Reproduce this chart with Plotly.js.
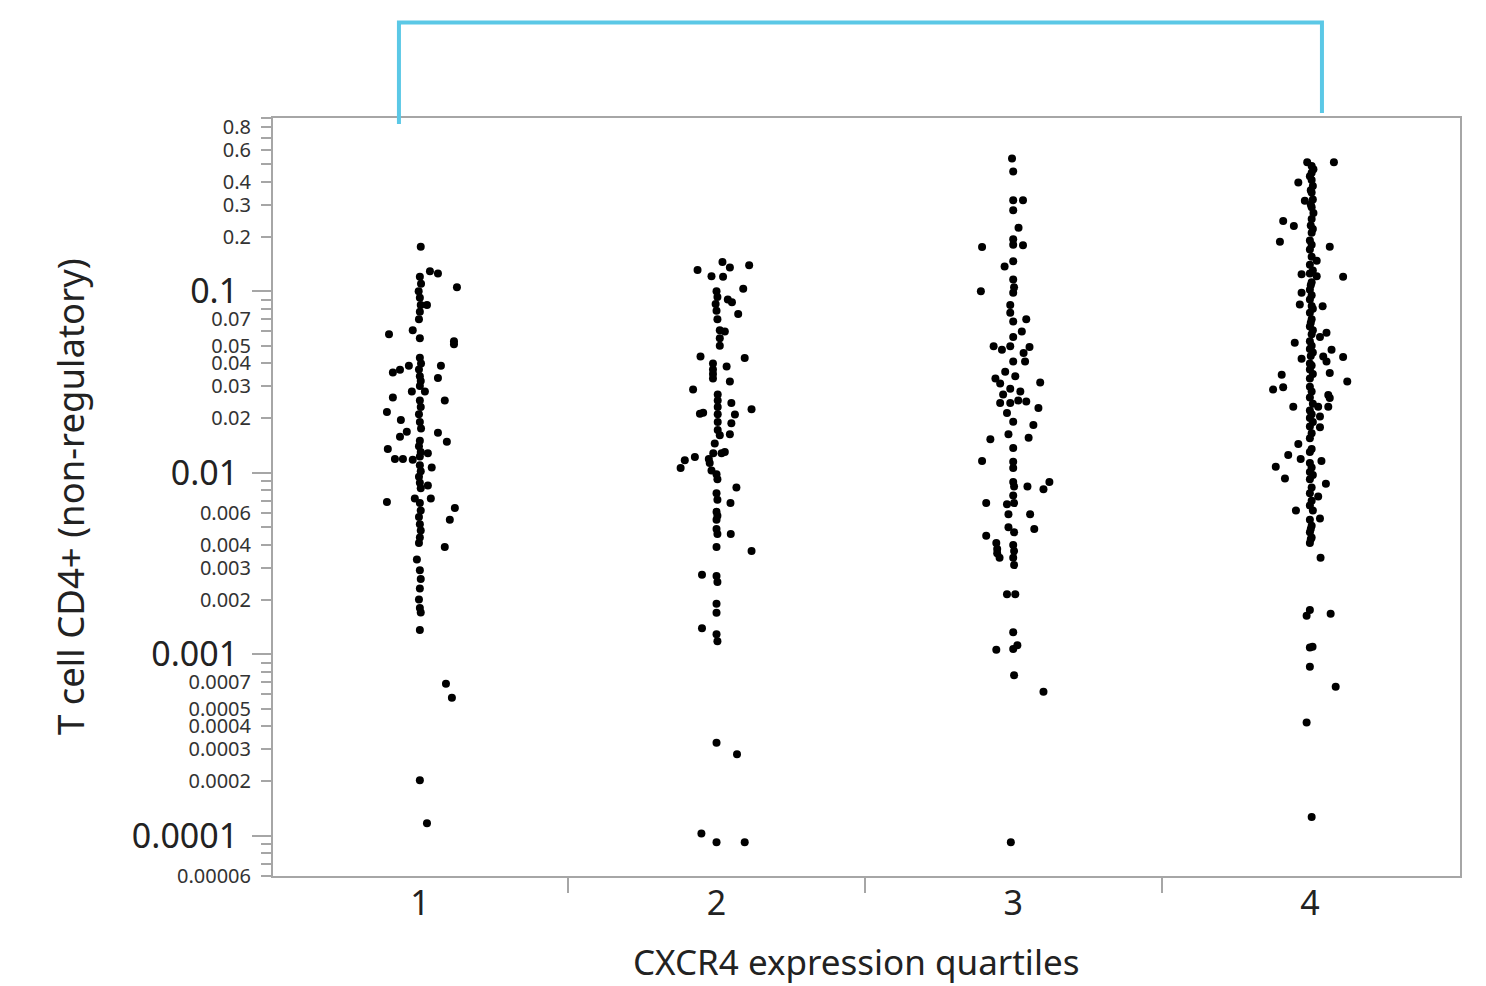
<!DOCTYPE html>
<html>
<head>
<meta charset="utf-8">
<script src="https://cdn.plot.ly/plotly-3.0.1.min.js"></script>
<style>html,body{margin:0;padding:0;background:#fff;}#chart{width:1486px;height:986px;}</style>
</head>
<body>
<div id="chart"></div>
<script>
// ---- data ----
const categories = [1, 2, 3, 4];
const categoryLabels = ['1', '2', '3', '4'];

const q1Values = [0.176,0.129,0.125,0.105,0.12,0.11,0.10,0.092,0.084,0.077,0.07,0.084,0.058,0.061,0.055,0.053,0.051,
  0.043,0.040,0.037,0.034,0.032,0.030,0.0356,0.0369,0.0388,0.0388,0.0333,0.028,0.028,0.026,0.025,0.0216,0.0195,
  0.025,0.023,0.021,0.019,0.0175,0.0168,0.0158,0.0166,0.0148,0.015,0.014,0.013,0.0123,0.0135,0.0119,0.0119,0.0118,
  0.0128,0.0107,0.011,0.0102,0.0095,0.0088,0.0082,0.0085,0.0069,0.0072,0.0072,0.0064,0.0055,
  0.0068,0.0062,0.0057,0.0052,0.0048,0.0044,0.0041,0.0039,0.00333,0.0029,0.0026,0.0023,0.0020,0.0018,0.0017,
  0.00136,0.000687,0.000575,0.000202,0.000117];
const q1Jitter = [0.003,0.034,0.061,0.125,0,0.004,-0.004,0,0.003,0,-0.003,0.024,-0.104,-0.024,0,0.115,0.115,
  0,0.004,-0.003,0,0.003,0,-0.091,-0.067,-0.037,0.071,0.061,-0.027,0.017,-0.091,0.084,-0.111,-0.064,
  0,0.003,-0.003,0,0.004,-0.044,-0.067,0.061,0.091,0,-0.003,0.003,0,-0.108,-0.084,-0.057,-0.024,
  0.027,0.040,0,0.003,-0.003,0,0.003,0.027,-0.111,-0.017,0.037,0.118,0.101,
  0,0.003,-0.003,0,0.003,0,-0.003,0.084,-0.010,0,0.003,0,-0.003,0,0.003,
  0,0.088,0.108,0,0.024];

const q2Values = [0.145,0.131,0.135,0.139,0.121,0.12,0.103,0.1,0.093,0.085,0.078,0.07,0.09,0.087,0.075,
  0.061,0.055,0.05,0.06,0.0437,0.0429,0.040,0.037,0.035,0.033,0.0385,0.0318,0.0287,
  0.027,0.025,0.023,0.021,0.019,0.0172,0.0242,0.0224,0.0211,0.0214,0.0209,0.0187,0.0163,0.0161,0.0145,
  0.013,0.0128,0.0128,0.0122,0.0117,0.0119,0.0113,0.0106,0.0103,0.0098,0.0092,0.0083,0.0077,0.0071,0.0068,
  0.0061,0.0058,0.0055,0.0049,0.0046,0.0046,0.0039,0.0037,0.00274,0.0027,0.0025,0.0019,0.00169,0.00139,
  0.00129,0.00118,0.000325,0.000281,0.000103,0.000092,0.000092];
const q2Jitter = [0.02,-0.064,0.045,0.11,-0.017,0.022,0.09,0,0.003,-0.003,0,0.003,0.038,0.052,0.073,
  0.011,0.011,0.011,0.028,-0.054,0.095,-0.012,-0.012,-0.012,-0.012,0.034,0.045,-0.079,
  0.004,0.004,0.004,0.004,0.004,0.004,0.05,0.118,-0.056,-0.045,0.062,0.05,0.045,0.011,-0.006,
  0.028,0.017,-0.011,-0.073,-0.107,-0.026,-0.023,-0.121,-0.017,0,0.003,0.067,0,0.003,0.047,
  0,0.003,0,0,0.003,0.048,0,0.118,-0.049,0,0.003,0,0,-0.049,
  0,0.003,0,0.069,-0.051,0,0.095];

const q3Values = [0.539,0.457,0.317,0.317,0.279,0.224,0.193,0.179,0.18,0.175,0.146,0.137,0.116,0.105,0.098,0.1,
  0.084,0.076,0.068,0.07,0.06,0.056,0.0497,0.0476,0.0497,0.0493,0.0457,0.041,0.041,
  0.036,0.034,0.031,0.029,0.027,0.025,0.033,0.028,0.0242,0.0242,0.0314,0.0247,0.0227,0.0213,0.0191,0.0183,
  0.0163,0.0156,0.0153,0.0137,0.0116,0.0115,0.0106,0.0089,0.0084,0.0084,0.0089,0.0081,0.0075,0.0068,0.0068,
  0.0067,0.0059,0.0059,0.005,0.0047,0.0049,0.0045,0.0041,0.0038,0.0036,0.0034,0.0040,0.0037,0.0034,0.0031,
  0.00214,0.00214,0.00132,0.00106,0.00107,0.00112,0.000767,0.000621,0.000092];
const q3Jitter = [-0.004,0,0,0.033,0,0.018,0,0.033,0,-0.105,0,-0.029,0,0.003,0,-0.109,
  -0.01,-0.01,0,0.044,0.029,0,-0.066,-0.038,-0.01,0.055,0.035,0,0.04,
  -0.027,0.007,-0.044,-0.01,-0.034,0.017,-0.06,0.024,-0.044,-0.01,0.091,0.044,0.085,-0.021,0,0.068,
  -0.016,0.052,-0.077,0,-0.105,0,0,0,0.003,0.048,0.122,0.102,0,0.003,-0.091,
  -0.021,-0.016,0.057,-0.016,0.003,0.071,-0.091,-0.057,-0.054,-0.054,-0.046,0,0.003,0,0.003,
  -0.021,0.007,0,-0.057,0,0.014,0.003,0.102,-0.008];

const q4Values = [0.513,0.513,0.49,0.47,0.45,0.43,0.41,0.38,0.36,0.35,0.32,0.30,0.29,0.27,0.25,0.23,0.22,0.21,
  0.397,0.315,0.244,0.229,0.187,0.176,0.19,0.18,0.17,0.155,0.14,0.13,0.125,0.112,0.108,0.102,0.147,0.124,0.121,0.12,
  0.098,0.0845,0.0826,0.095,0.09,0.083,0.08,0.076,0.07,0.067,0.064,0.061,0.058,0.053,0.05,0.048,0.046,0.044,0.04,
  0.039,0.037,0.035,0.033,0.059,0.056,0.052,0.0476,0.0437,0.041,0.0434,0.0424,0.0354,0.0318,0.0347,0.0287,0.0296,
  0.0298,0.0268,0.0258,0.0231,0.028,0.026,0.024,0.022,0.021,0.02,0.019,0.018,0.0165,0.0155,0.0231,0.0231,0.0204,
  0.0178,0.0144,0.0125,0.0119,0.0135,0.013,0.0116,0.0113,0.0108,0.0107,0.0093,0.0101,0.0097,0.0092,0.0087,0.0083,
  0.0077,0.0074,0.007,0.0066,0.0062,0.0062,0.0056,0.0055,0.0051,0.0049,0.0047,0.0044,0.0043,0.0041,0.0034,
  0.00175,0.00163,0.00167,0.0011,0.00109,0.000853,0.000661,0.00042,0.000127];
const q4Jitter = [-0.009,0.081,0.006,0.012,0.006,0,0.006,0.01,0.003,0.006,0.01,0.003,0.006,0.012,0.006,0.003,0.01,0.006,
  -0.039,-0.017,-0.09,-0.054,-0.101,0.067,0,0.006,0,0.006,0,0.01,0,0.006,0.003,0,0.023,-0.028,0.023,0.112,
  -0.028,-0.034,0.043,0.006,0,0.006,0.01,0,0.006,0.003,0,0.01,0.006,0,0.006,0,0.01,0.003,0,
  0.006,0,0.01,0,0.056,0.034,-0.051,0.073,0.045,0.056,0.112,-0.028,0.067,0.126,-0.095,-0.124,-0.09,
  0,0.062,0.067,-0.056,0.006,0,0.01,0,0.006,0,0.01,0,0.006,0,0.028,0.062,0.034,
  0.034,-0.039,-0.073,-0.031,0.006,0,0.039,0,-0.115,0.006,-0.084,0,0.01,0,0.054,0.006,
  0,0.028,0.006,0,0.01,-0.047,0.034,0,0.006,0.003,0,0.006,0.003,0,0.036,
  0,-0.011,0.07,0.009,0,0,0.087,-0.011,0.006];

const refLine = 0.0106;
const yLabeledTicks = [0.8,0.6,0.4,0.3,0.2,0.07,0.05,0.04,0.03,0.02,0.006,0.004,0.003,0.002,0.0007,0.0005,0.0004,0.0003,0.0002,0.00006];
const yLabeledText = ['0.8','0.6','0.4','0.3','0.2','0.07','0.05','0.04','0.03','0.02','0.006','0.004','0.003','0.002','0.0007','0.0005','0.0004','0.0003','0.0002','0.00006'];
const yMinorTicks = [0.9,0.7,0.5,0.09,0.08,0.06,0.009,0.008,0.007,0.005,0.0009,0.0008,0.0006,0.00009,0.00008,0.00007];
const yMajorTicks = [0.1,0.01,0.001,0.0001];
const yMajorText = ['0.1','0.01','0.001','0.0001'];
const xDividers = [1.5,2.5,3.5];
const yRange = [0.00006, 0.9];
const xTitle = 'CXCR4 expression quartiles';
const yTitle = 'T cell CD4+ (non-regulatory)';

// ---- build ----
const groups = [[q1Values,q1Jitter],[q2Values,q2Jitter],[q3Values,q3Jitter],[q4Values,q4Jitter]];
const traces = groups.map((g, i) => ({
  type: 'scatter', mode: 'markers',
  x: g[0].map((v, k) => categories[i] + g[1][k]),
  y: g[0],
  yaxis: i === 3 ? 'y2' : 'y',
  marker: {color: '#000000', size: 8, symbol: 'circle', line: {width: 0}},
  hoverinfo: 'skip', showlegend: false
}));

const gray = '#a6a6a6';
const font = 'Noto Sans, Open Sans, sans-serif';
const logRange = [Math.log10(yRange[0]), Math.log10(yRange[1])];
const layout = {
  width: 1486, height: 986,
  margin: {l: 273, r: 26, t: 118, b: 110},
  paper_bgcolor: '#ffffff', plot_bgcolor: '#ffffff',
  font: {family: font, color: '#222222'},
  showlegend: false,
  xaxis: {
    type: 'linear', range: [0.505, 4.506],
    tickmode: 'array', tickvals: categories, ticktext: categoryLabels,
    ticks: 'outside', ticklen: 0, tickcolor: 'rgba(0,0,0,0)',
    ticklabelstandoff: -4,
    tickfont: {size: 34, family: font, color: '#222222'},
    minor: {tickmode: 'array', tickvals: xDividers, ticks: 'outside', ticklen: 15, tickwidth: 2, tickcolor: gray, showgrid: false},
    showline: true, linecolor: gray, linewidth: 2, mirror: true,
    showgrid: false, zeroline: false
  },
  yaxis: {
    type: 'log', range: logRange,
    tickmode: 'array', tickvals: yLabeledTicks, ticktext: yLabeledText,
    ticks: 'outside', ticklen: 10, tickwidth: 2, tickcolor: gray,
    ticklabelstandoff: 6,
    tickfont: {size: 20, family: font, color: '#333333'},
    minor: {tickmode: 'array', tickvals: yMinorTicks, ticks: 'outside', ticklen: 10, tickwidth: 2, tickcolor: gray, showgrid: false},
    showline: true, linecolor: gray, linewidth: 2, mirror: true,
    showgrid: false, zeroline: false
  },
  yaxis2: {
    type: 'log', overlaying: 'y', anchor: 'x', side: 'left',
    range: logRange,
    tickmode: 'array', tickvals: yMajorTicks, ticktext: yMajorText,
    ticks: 'outside', ticklen: 20, tickwidth: 2, tickcolor: gray,
    ticklabelstandoff: 7,
    tickfont: {size: 34, family: font, color: '#222222'},
    showline: false, showgrid: false, zeroline: false
  },
  shapes: [
    {type: 'line', layer: 'below', xref: 'paper', x0: 0, x1: 1, yref: 'y',
     y0: Math.log10(refLine), y1: Math.log10(refLine), line: {color: '#b8b8b8', width: 4}},
    {type: 'path', xref: 'paper', yref: 'paper',
     path: 'M 0.1061 0.992 L 0.1061 1.126 L 0.8837 1.126 L 0.8837 1.0066',
     line: {color: '#5bc8e6', width: 4}}
  ],
  annotations: [
    {text: xTitle, xref: 'paper', yref: 'paper', x: 0.491, y: -0.113, xanchor: 'center', yanchor: 'middle',
     showarrow: false, font: {size: 35, family: font, color: '#222222'}},
    {text: yTitle, xref: 'paper', yref: 'paper', x: -0.171, y: 0.5, xanchor: 'center', yanchor: 'middle',
     textangle: -90, showarrow: false, font: {size: 36.5, family: font, color: '#222222'}}
  ]
};
Plotly.newPlot('chart', traces, layout, {displayModeBar: false, staticPlot: true});
</script>
</body>
</html>
